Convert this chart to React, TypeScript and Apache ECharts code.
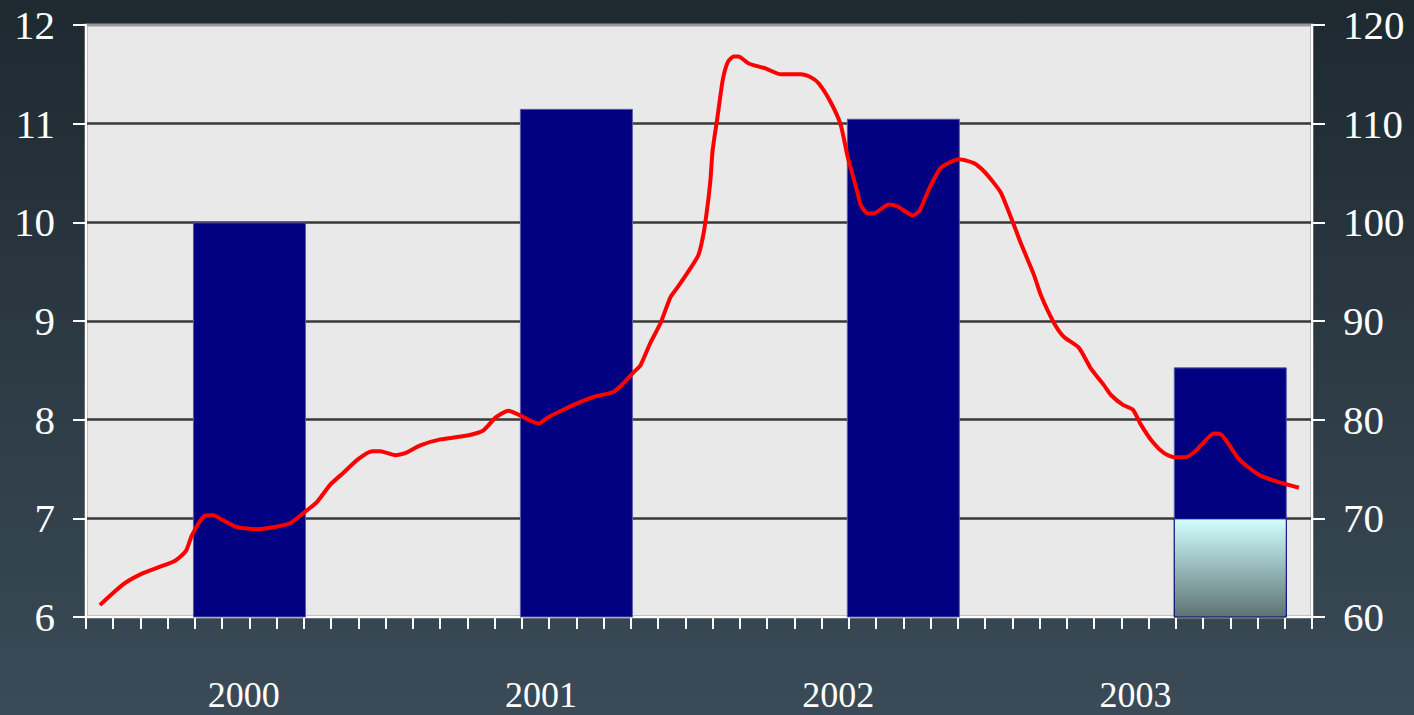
import React, { useEffect, useRef } from 'react';
import * as echarts from 'echarts';

const yearLabels = ['2000', '2001', '2002', '2003'];
const monthCount = 45;
const barMonths = [6, 18, 30, 42];
const barValues = [10.0, 11.15, 11.05, 8.53];
const lowerSegmentMonths = [42];
const lowerSegmentValues = [7.0];
const lineMonths = [
  0.51, 1.36, 1.98, 2.72, 3.27, 3.67, 3.89, 4.33, 4.67, 5.03, 5.55, 6.28, 6.87, 7.49, 7.97, 8.49,
  8.96, 9.44, 9.99, 10.51, 10.8, 11.35, 11.72, 12.27, 13.01, 14.0, 14.58, 15.03, 15.5, 16.31, 16.61,
  16.94, 17.52, 18.15, 18.63, 19.36, 19.73, 20.1, 20.35, 20.72, 21.09, 21.45, 21.71, 22.08, 22.48,
  22.67, 22.81, 22.92, 23.0, 23.18, 23.37, 23.55, 23.77, 23.95, 24.32, 24.94, 25.5, 26.23, 26.6,
  26.89, 27.33, 27.7, 27.96, 28.32, 28.43, 28.69, 28.91, 29.46, 29.79, 30.35, 30.6, 30.93, 31.37,
  32.04, 32.59, 32.95, 33.32, 33.58, 34.02, 34.31, 34.79, 35.05, 35.53, 35.89, 36.44, 36.88, 37.36,
  37.62, 38.06, 38.43, 38.72, 39.16, 39.57, 39.93, 40.37, 40.67, 40.93, 41.4, 41.66, 41.92, 42.29,
  42.65, 43.13, 43.75, 44.52,
];
const lineValues = [
  61.2, 63.3, 64.3, 65.1, 65.7, 66.7, 68.3, 70.2, 70.3, 69.8, 69.1, 68.9, 69.1, 69.5, 70.5, 71.7,
  73.4, 74.6, 76.0, 76.8, 76.8, 76.4, 76.6, 77.4, 78.0, 78.4, 78.9, 80.2, 80.9, 79.9, 79.6,
  80.2, 81.0, 81.8, 82.3, 82.8, 83.7, 84.8, 85.5, 87.8, 89.8, 92.4, 93.4, 94.9, 96.7,
  98.9, 101.6, 104.3, 107.3, 110.7, 114.4, 116.2, 116.8, 116.8, 116.1, 115.6, 115.0, 115.0, 114.7,
  114.1, 112.2, 109.9, 106.6, 103.0, 101.8, 100.9, 100.9, 101.8, 101.6, 100.7, 101.2, 103.3, 105.5,
  106.4, 106.0, 105.2, 104.0, 103.0, 100.0, 97.9, 94.7, 92.6, 89.8, 88.4, 87.3, 85.2, 83.5,
  82.5, 81.5, 81.0, 79.5, 77.7, 76.6, 76.2, 76.2, 76.7, 77.4, 78.6, 78.5, 77.6, 76.1,
  75.2, 74.3, 73.7, 73.1,
];

const FONT = 'Liberation Serif, serif';

export default function App() {
  const ref = useRef<HTMLDivElement>(null);
  useEffect(() => {
    document.body.style.margin = '0';
    const chart = echarts.init(ref.current!, null, { renderer: 'svg' });
    const whiteLine = { show: true, lineStyle: { color: '#ffffff', width: 2 } };
    const yLabel = { color: '#ffffff', fontFamily: FONT, fontSize: 41, margin: 31 };
    chart.setOption({
      animation: false,
      textStyle: { fontFamily: FONT },
      backgroundColor: new echarts.graphic.LinearGradient(0, 0, 0, 1, [
        { offset: 0, color: '#1e2930' },
        { offset: 1, color: '#3a4b57' },
      ]),
      grid: [
        {
          left: 86, right: 102, top: 25, bottom: 98, show: true,
          backgroundColor: '#e9e9e9', borderColor: '#999999', borderWidth: 3,
        },
        { left: 95, right: 130, top: 25, bottom: 98 },
      ],
      xAxis: [
        {
          type: 'value', gridIndex: 0, min: 0, max: monthCount, interval: 1,
          axisLine: whiteLine,
          axisTick: { show: true, length: 12, lineStyle: { color: '#ffffff', width: 2 } },
          axisLabel: { show: false },
          splitLine: { show: false },
        },
        {
          type: 'category', gridIndex: 1, data: yearLabels,
          axisLine: { show: false }, axisTick: { show: false },
          axisLabel: { color: '#ffffff', fontFamily: FONT, fontSize: 36, margin: 60 },
        },
      ],
      yAxis: [
        {
          type: 'value', gridIndex: 0, min: 6, max: 12, interval: 1, position: 'left',
          axisLine: whiteLine,
          axisTick: { show: true, length: 13, lineStyle: { color: '#ffffff', width: 2 } },
          axisLabel: yLabel,
          splitLine: { show: true, showMinLine: false, showMaxLine: false, lineStyle: { color: '#383838', width: 2.5 } },
        },
        {
          type: 'value', gridIndex: 0, min: 60, max: 120, interval: 10, position: 'right',
          axisLine: whiteLine,
          axisTick: { show: true, length: 13, lineStyle: { color: '#ffffff', width: 2 } },
          axisLabel: yLabel,
          splitLine: { show: false },
        },
        { type: 'value', gridIndex: 1, show: false },
      ],
      series: [
        {
          type: 'bar', xAxisIndex: 0, yAxisIndex: 0, barWidth: 113, barGap: '-100%',
          data: barMonths.map((m, i) => [m, barValues[i]]),
          itemStyle: { color: '#000080', borderColor: '#5a5aa8', borderWidth: 1 },
        },
        {
          type: 'bar', xAxisIndex: 0, yAxisIndex: 0, barWidth: 113, barGap: '-100%',
          data: lowerSegmentMonths.map((m, i) => [m, lowerSegmentValues[i]]),
          itemStyle: {
            color: new echarts.graphic.LinearGradient(0, 0, 0, 1, [
              { offset: 0, color: '#d2ffff' },
              { offset: 1, color: '#5d7373' },
            ]),
            borderColor: '#000080', borderWidth: 1,
          },
        },
        {
          type: 'line', xAxisIndex: 0, yAxisIndex: 1, smooth: 0.2, showSymbol: false, z: 5,
          data: lineMonths.map((m, i) => [m, lineValues[i]]),
          lineStyle: { color: '#ff0000', width: 4 },
        },
      ],
    });
    return () => chart.dispose();
  }, []);
  return <div ref={ref} style={{ width: 1414, height: 715 }} />;
}
